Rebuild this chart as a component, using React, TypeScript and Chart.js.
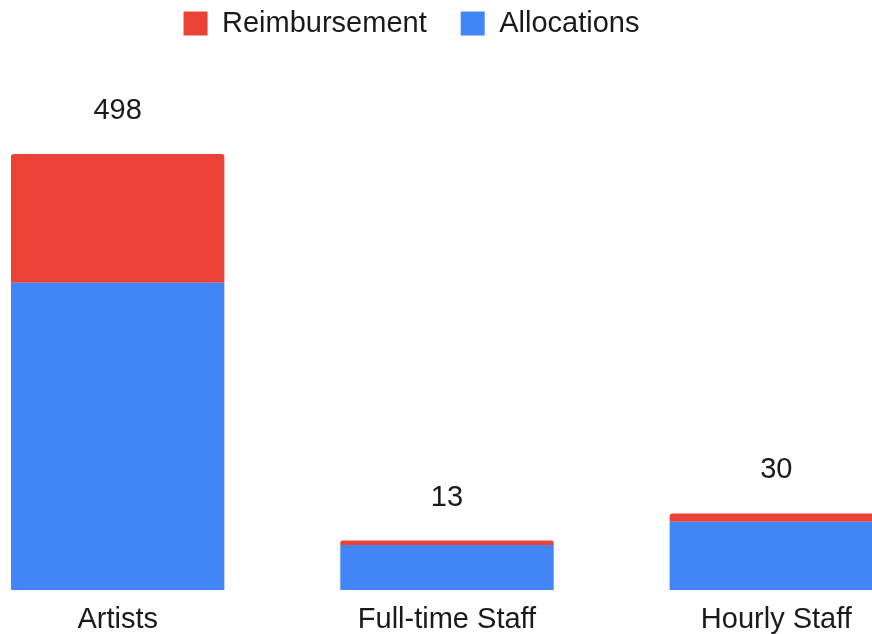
import React, { useEffect, useRef } from "react";
import { Chart, registerables } from "chart.js";

Chart.register(...registerables);

const categories = ["Artists", "Full-time Staff", "Hourly Staff"];
const allocations = [351, 51.5, 78];
const reimbursement = [147, 5, 9.5];
const totalLabels = ["498", "13", "30"];

const RED = "#EA4335";
const BLUE = "#4285F4";
const FONT = "'Liberation Sans', Arial, Helvetica, sans-serif";
const TEXT = "#1a1a1a";

const totalsPlugin = {
  id: "totalsPlugin",
  afterDatasetsDraw(chart: any) {
    const ctx = chart.ctx;
    const meta = chart.getDatasetMeta(1);
    ctx.save();
    ctx.font = `29px ${FONT}`;
    ctx.fillStyle = TEXT;
    ctx.textAlign = "center";
    ctx.textBaseline = "alphabetic";
    meta.data.forEach((el: any, i: number) => {
      ctx.fillText(totalLabels[i], el.x, el.y - 35);
    });
    ctx.restore();
  },
};

export default function App() {
  const ref = useRef<HTMLCanvasElement | null>(null);
  useEffect(() => {
    if (!ref.current) return;
    const chart = new Chart(ref.current, {
      type: "bar",
      data: {
        labels: categories,
        datasets: [
          {
            label: "Allocations",
            data: allocations,
            backgroundColor: BLUE,
            borderWidth: 0,
            borderRadius: 0,
          },
          {
            label: "Reimbursement",
            data: reimbursement,
            backgroundColor: RED,
            borderWidth: 0,
            borderRadius: { topLeft: 3, topRight: 3, bottomLeft: 0, bottomRight: 0 },
            borderSkipped: false,
          },
        ],
      },
      options: {
        responsive: false,
        animation: false,
        devicePixelRatio: 1,
        layout: { padding: 0 },
        datasets: {
          bar: { categoryPercentage: 1, barPercentage: 0.648 },
        },
        plugins: {
          tooltip: { enabled: false },
          legend: {
            display: true,
            position: "top",
            reverse: true,
            labels: {
              boxWidth: 24,
              boxHeight: 24,
              padding: 34,
              color: TEXT,
              font: { size: 29, family: FONT },
            },
          },
        },
        scales: {
          x: {
            stacked: true,
            grid: { display: false, drawTicks: false },
            border: { display: false },
            ticks: {
              color: TEXT,
              padding: 13,
              font: { size: 29, family: FONT },
              maxRotation: 0,
              autoSkip: false,
            },
            afterFit: (s: any) => {
              s.height = 44;
            },
          },
          y: {
            stacked: true,
            min: 0,
            max: 619,
            grid: { display: false, drawTicks: false },
            border: { display: false },
            ticks: { display: false },
            afterFit: (s: any) => {
              s.width = 71;
            },
          },
        },
      },
      plugins: [totalsPlugin],
    } as any);
    return () => chart.destroy();
  }, []);

  return (
    <div
      style={{
        position: "absolute",
        left: 0,
        top: 0,
        width: 872,
        height: 634,
        overflow: "hidden",
        background: "#ffffff",
      }}
    >
      <canvas
        ref={ref}
        width={1059}
        height={659}
        style={{ position: "absolute", left: -118, top: -25, width: 1059, height: 659 }}
      />
    </div>
  );
}
